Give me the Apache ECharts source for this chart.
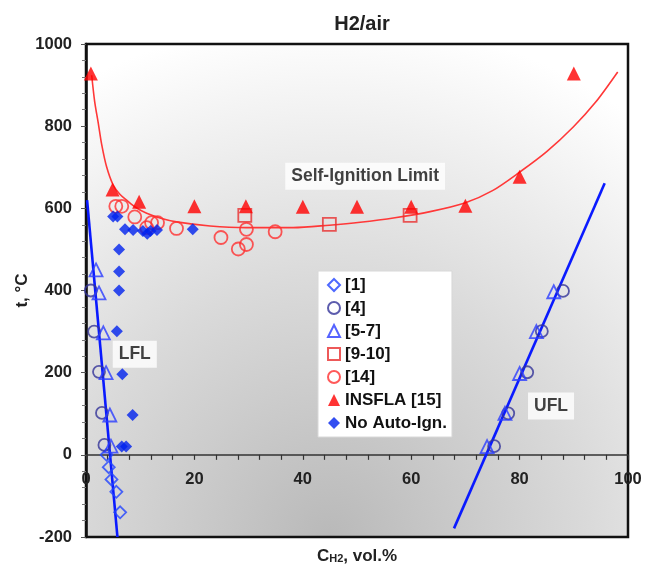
<!DOCTYPE html>
<html><head><meta charset="utf-8">
<script src="https://cdn.jsdelivr.net/npm/echarts@6/dist/echarts.min.js"></script>
<style>html,body{margin:0;padding:0;background:#fff}#c{width:645px;height:565px}</style>
</head><body><div id="c"></div>
<script>
// ---- data ----
const ref1 = [[3.8,0],[4.2,-30],[4.7,-60],[5.6,-90],[6.3,-140]];
const ref4 = [[0.9,400],[1.5,300],[2.4,202],[2.95,102],[3.4,24],
              [75.3,21],[77.9,101],[81.4,201],[84.1,301],[88.0,399]];
const ref5_7 = [[1.85,450],[2.4,394],[3.2,297],[3.7,200],[4.4,97],[4.6,21],
                [74.0,20],[77.3,101],[80.0,198],[83.1,300],[86.3,397]];
const ref9_10 = [[29.3,583],[44.9,561],[59.8,583]];
const ref14 = [[5.5,605],[6.6,605],[9.0,579],[11.2,553],[12.1,565],[13.2,565],[16.7,551],
               [24.9,529],[28.1,501],[29.6,512],[29.6,549],[34.9,543]];
const insfla15 = [[0.9,928],[4.9,646],[9.8,616],[20,605],[29.5,605],[40,604],[50,604],
                  [60,604],[70,606],[80,677],[90,928]];
const noAutoIgn = [[5.0,580],[5.8,580],[7.2,549],[8.7,547],[10.5,545],[11.3,538],[11.9,545],
                   [13.1,547],[19.7,549],[6.1,500],[6.1,446],[6.1,400],[5.7,301],[6.7,196],
                   [8.6,97],[6.6,20],[7.4,20]];
const selfIgnitionCurve = [[1.05,924],[1.6,860],[2.27,807],[2.9,755],[3.8,701],[5.0,657],
                           [6.2,635],[7.5,620],[9.2,602],[11.2,588],[13.8,576],[16.7,567],
                           [22.9,557],[29.6,553],[38.2,553],[44.9,559],[50.6,566],[57,577],
                           [63.5,592],[69.9,613],[75,643],[80.1,689],[85,738],[89.9,798],
                           [94,858],[98.1,932]];
const lflLine = [[0.2,620],[5.8,-200]];
const uflLine = [[67.9,-179],[95.7,661]];
const annotations = [
  {name:'Self-Ignition Limit', value:[51.5,678]},
  {name:'LFL', value:[9.0,245]},
  {name:'UFL', value:[85.8,119]}
];
const legendNames = ['[1]','[4]','[5-7]','[9-10]','[14]','INSFLA [15]','No Auto-Ign.'];
const yMin = -200, yMax = 1000;

const FONT = '"Liberation Sans", Arial, sans-serif';
const GRID = {left:86, right:17, top:44, bottom:28};
const W = 645, H = 565;
const plotH = H - GRID.top - GRID.bottom;
// x axis sits on t = 0 (shift from the bottom edge of the plot)
const zeroShift = -plotH * (0 - yMin) / (yMax - yMin);

const chart = echarts.init(document.getElementById('c'));

function hollow(name, data, symbol, size, color){
  return {name, type:'scatter', data, symbol, symbolSize:size, z:5,
    itemStyle:{color:'rgba(255,255,255,0)', borderColor:color, borderWidth:1.8}};
}
function filled(name, data, symbol, size, color){
  return {name, type:'scatter', data, symbol, symbolSize:size, z:5,
    itemStyle:{color:color}};
}

chart.setOption({
  animation:false,
  title:{text:'H2/air', left:357, top:9, textAlign:'center',
    textStyle:{fontFamily:FONT, fontSize:20, fontWeight:'bold', color:'#222'}},
  grid:Object.assign({outerBoundsMode:'none', containLabel:false,
    show:true, borderColor:'#111', borderWidth:2.5,
    backgroundColor:{type:'radial', x:0.45, y:1.0, r:1.05,
      colorStops:[{offset:0,color:'#b9b9b9'},{offset:0.5,color:'#dadada'},{offset:1,color:'#ffffff'}]}}, GRID),
  legend:{data:legendNames, orient:'vertical', left:318, top:271,
    backgroundColor:'#ffffff', borderColor:'#d8d8d8', borderWidth:1,
    padding:[5,5,5,9], itemGap:5, itemWidth:12, itemHeight:12,
    textStyle:{fontFamily:FONT, fontSize:17, fontWeight:'bold', color:'#111', lineHeight:18}},
  xAxis:{type:'value', min:0, max:100, interval:20, position:'bottom', offset:zeroShift,
    name:'C{sub|H2}, vol.%', nameLocation:'middle', nameGap:92, nameMoveOverlap:false,
    nameTextStyle:{fontFamily:FONT, fontSize:17, fontWeight:'bold', color:'#222',
      rich:{sub:{fontFamily:FONT, fontSize:11, fontWeight:'bold', color:'#222', verticalAlign:'bottom', padding:[7,0,0,0]}}},
    axisLine:{onZero:false, lineStyle:{color:'#333', width:1.5}},
    axisTick:{show:true, inside:false, length:5, lineStyle:{color:'#333', width:1.2}},
    minorTick:{show:true, splitNumber:5, length:5, lineStyle:{color:'#333', width:1.2}},
    axisLabel:{fontFamily:FONT, fontSize:16.5, fontWeight:'bold', color:'#222', margin:16,
      formatter:(v)=>String(v)},
    splitLine:{show:false}},
  yAxis:{type:'value', min:yMin, max:yMax, interval:200,
    name:'t, °C', nameLocation:'middle', nameGap:55, nameRotate:90, nameMoveOverlap:false,
    nameTextStyle:{fontFamily:FONT, fontSize:17, fontWeight:'bold', color:'#222'},
    axisLine:{show:true, lineStyle:{color:'#111', width:2.5}},
    axisTick:{show:true, length:5, lineStyle:{color:'#555', width:1}},
    minorTick:{show:true, splitNumber:5, length:4, lineStyle:{color:'#777', width:1}},
    axisLabel:{fontFamily:FONT, fontSize:16.5, fontWeight:'bold', color:'#222', margin:14,
      formatter:(v)=>String(v)},
    splitLine:{show:false}},
  series:[
    {name:'curve', type:'line', data:selfIgnitionCurve, smooth:0.3, symbol:'none', z:3,
      lineStyle:{color:'#ff3838', width:1.6}},
    {name:'LFL line', type:'line', data:lflLine, symbol:'none', z:3,
      lineStyle:{color:'#0a1aff', width:2.6}},
    {name:'UFL line', type:'line', data:uflLine, symbol:'none', z:3,
      lineStyle:{color:'#0a1aff', width:2.6}},
    hollow('[1]', ref1, 'diamond', 12, '#2244ff'),
    hollow('[4]', ref4, 'circle', 12, '#333399'),
    hollow('[5-7]', ref5_7, 'triangle', 13, '#2a3cff'),
    hollow('[9-10]', ref9_10, 'rect', 13, '#e83030'),
    hollow('[14]', ref14, 'circle', 13, '#ff3030'),
    filled('INSFLA [15]', insfla15, 'triangle', 14, '#ff0000'),
    filled('No Auto-Ign.', noAutoIgn, 'diamond', 12, '#0022ee'),
    {name:'annotations', type:'scatter', data:annotations, symbolSize:1, z:6,
      itemStyle:{color:'rgba(0,0,0,0)'},
      label:{show:true, position:'inside', formatter:'{b}', backgroundColor:'#ffffff',
        padding:[5,6,4,6], fontFamily:FONT, fontSize:17.5, fontWeight:'bold', color:'#111'}}
  ]
});
</script></body></html>
